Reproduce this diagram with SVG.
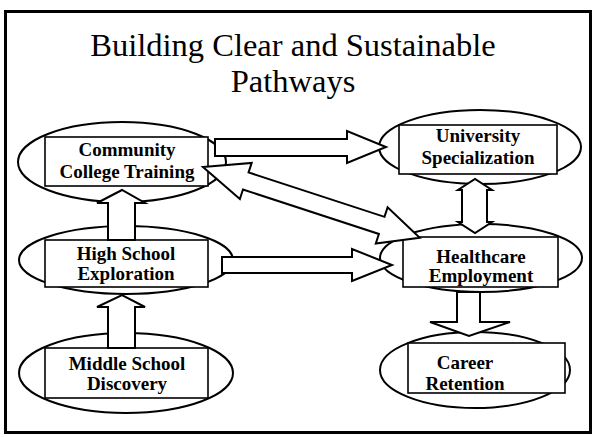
<svg xmlns="http://www.w3.org/2000/svg" width="595" height="437" viewBox="0 0 595 437">
  <style>
    .frame { fill: #fff; stroke: #000; stroke-width: 3; }
    .oval { fill: #fff; stroke: #000; stroke-width: 2; }
    .box { fill: #fff; stroke: #000; stroke-width: 1.6; }
    .arrow { fill: #fff; stroke: #000; stroke-width: 2; stroke-linejoin: miter; }
    .title { font-family: "Liberation Serif", "Times New Roman", serif; font-size: 32.5px; text-anchor: middle; fill: #000; }
    .label { font-family: "Liberation Serif", "Times New Roman", serif; font-size: 19px; font-weight: bold; text-anchor: middle; fill: #000; }
  </style>

  <rect width="595" height="437" fill="#fff"/>
  <rect class="frame" x="5.5" y="11.5" width="585" height="421"/>

  <g id="title">
    <text class="title" x="293" y="55.5">Building Clear and Sustainable</text>
    <text class="title" x="293" y="92">Pathways</text>
  </g>

  <!-- pathway stages: oval with a framed label -->
  <g id="community-college">
    <ellipse class="oval" cx="122" cy="162" rx="104" ry="40"/>
    <rect class="box" x="45" y="137" width="163" height="49"/>
    <text class="label" x="127" y="156">Community</text>
    <text class="label" x="127" y="178">College Training</text>
  </g>

  <g id="university">
    <ellipse class="oval" cx="480" cy="147" rx="101" ry="37"/>
    <rect class="box" x="399" y="125" width="158" height="49"/>
    <text class="label" x="478" y="142">University</text>
    <text class="label" x="478" y="164">Specialization</text>
  </g>

  <g id="high-school">
    <ellipse class="oval" cx="126" cy="260" rx="107" ry="34"/>
    <rect class="box" x="45" y="240" width="163" height="47"/>
    <text class="label" x="126" y="260">High School</text>
    <text class="label" x="126" y="280">Exploration</text>
  </g>

  <g id="healthcare">
    <ellipse class="oval" cx="481" cy="258" rx="101" ry="34"/>
    <rect class="box" x="403" y="237" width="155" height="50"/>
    <text class="label" x="481" y="263">Healthcare</text>
    <text class="label" x="481" y="282">Employment</text>
  </g>

  <g id="middle-school">
    <ellipse class="oval" cx="126" cy="373" rx="107" ry="40"/>
    <rect class="box" x="45" y="348" width="163" height="50"/>
    <text class="label" x="127" y="370">Middle School</text>
    <text class="label" x="127" y="390">Discovery</text>
  </g>

  <g id="career">
    <ellipse class="oval" cx="475" cy="370" rx="95" ry="38"/>
    <rect class="box" x="408" y="343" width="157" height="50"/>
    <text class="label" x="465" y="369">Career</text>
    <text class="label" x="465" y="390">Retention</text>
  </g>

  <!-- block arrows between stages -->
  <g id="connectors">
    <path class="arrow" d="M215,139 H347 V131 L386,147 L347,163 V156 H215 Z"/>
    <polygon class="arrow" transform="translate(203,167) rotate(18.1)"
             points="0,0 45,-19 45,-9 188,-9 188,-19 228,0 188,19 188,9 45,9 45,19"/>
    <path class="arrow" d="M222,257 H352 V249 L392,265 L352,281 V273 H222 Z"/>
    <path class="arrow" d="M108,240 V203 H97 L122,190 L145,203 H135 V240 Z"/>
    <path class="arrow" d="M108,348 V307 H97 L122,295 L145,307 H135 V348 Z"/>
    <path class="arrow" d="M462,190 H458 L475,179 L492,190 H487 V222 H492 L475,233 L458,222 H462 Z"/>
    <path class="arrow" d="M457,292 V322 H430 L469,336 L510,322 H480 V292 Z"/>
  </g>
</svg>
